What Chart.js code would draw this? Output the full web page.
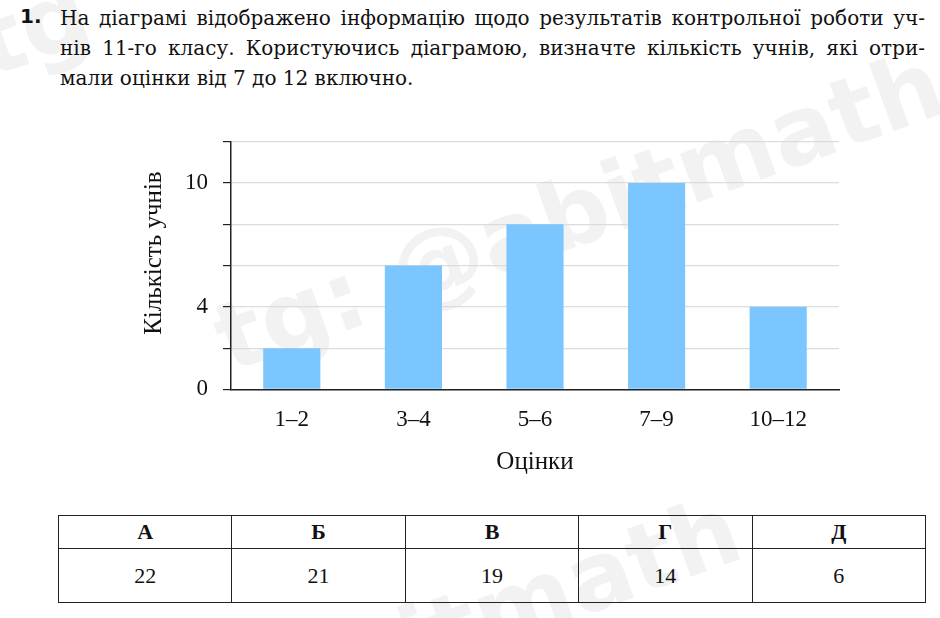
<!DOCTYPE html>
<html lang="uk">
<head>
<meta charset="utf-8">
<script src="https://cdn.jsdelivr.net/npm/chart.js@4"></script>
<style>
  body { margin: 0; width: 940px; height: 618px; background: #fff; position: relative; overflow: hidden; font-family: "Liberation Serif", serif; color: #111; }
  .wm { position: absolute; font-family: "DejaVu Sans", sans-serif; font-weight: bold; color: #f2f2f2; white-space: nowrap; transform-origin: 0 0; z-index: 0; }
  .task { position: absolute; left: 20px; top: 3px; width: 905px; z-index: 2; }
  .num { position: absolute; left: 0; top: 1px; font-family: "DejaVu Sans", sans-serif; font-weight: bold; font-size: 20px; }
  .line { margin-left: 40px; font-family: "DejaVu Serif", serif; font-size: 20px; line-height: 30px; height: 30px; text-align: justify; text-align-last: justify; white-space: nowrap; }
  .line.last { text-align-last: left; }
  #wrap { position: absolute; left: 135px; top: 113px; width: 715px; height: 368px; z-index: 1; }
  table { position: absolute; left: 58px; top: 515px; width: 868px; border-collapse: collapse; z-index: 2; font-family: "Liberation Serif", serif; font-size: 22px; }
  td, th { border: 1.5px solid #222; text-align: center; width: 20%; padding: 0; }
  th { height: 32px; font-weight: bold; }
  td { height: 53px; }
</style>
</head>
<body>
<div class="wm" style="left:-40px; top:-5px; font-size:95px; transform: rotate(-20deg);">tg</div>
<div class="wm" style="left:200px; top:290px; font-size:95px; transform: rotate(-20deg);">tg: @abitmath</div>
<div class="wm" style="left:260px; top:640px; font-size:95px; transform: rotate(-20deg);">abitmath</div>

<div class="task">
  <div class="num">1.</div>
  <div class="line">На діаграмі відображено інформацію щодо результатів контрольної роботи уч-</div>
  <div class="line">нів 11-го класу. Користуючись діаграмою, визначте кількість учнів, які отри-</div>
  <div class="line last">мали оцінки від 7 до 12 включно.</div>
</div>

<div id="wrap"><canvas id="chart"></canvas></div>

<table>
  <tr><th>А</th><th>Б</th><th>В</th><th>Г</th><th>Д</th></tr>
  <tr><td>22</td><td>21</td><td>19</td><td>14</td><td>6</td></tr>
</table>

<script>
// Оцінки та кількість учнів
const grades = ['1–2', '3–4', '5–6', '7–9', '10–12'];
const students = [2, 6, 8, 10, 4];
const shownTicks = [0, 4, 10];

const tickFont = { family: 'Liberation Serif', size: 23 };
const titleFont = { family: 'Liberation Serif', size: 25 };

new Chart(document.getElementById('chart'), {
  type: 'bar',
  data: {
    labels: grades,
    datasets: [{
      data: students,
      backgroundColor: '#7bc6fe',
      barPercentage: 0.47,
      categoryPercentage: 1
    }]
  },
  options: {
    responsive: true,
    maintainAspectRatio: false,
    animation: false,
    layout: { padding: { top: 6, right: 11, left: 0, bottom: 0 } },
    plugins: { legend: { display: false }, tooltip: { enabled: false } },
    scales: {
      x: {
        grid: { display: false },
        border: { color: '#222', width: 1.5 },
        ticks: { color: '#111', font: tickFont, padding: 9 },
        title: { display: true, text: 'Оцінки', color: '#111', font: titleFont, padding: { top: 4 } }
      },
      y: {
        min: 0,
        max: 12,
        grid: { color: '#dcdcdc', lineWidth: 1.2, tickColor: '#222', tickLength: 8 },
        border: { color: '#222', width: 1.5 },
        ticks: {
          stepSize: 2,
          color: '#111',
          font: tickFont,
          padding: 15,
          callback: v => shownTicks.includes(v) ? v : ''
        },
        title: { display: true, text: '\u00a0\u00a0\u00a0\u00a0Кількість учнів', color: '#111', font: titleFont, padding: { bottom: 1 } }
      }
    }
  }
});
</script>
</body>
</html>
